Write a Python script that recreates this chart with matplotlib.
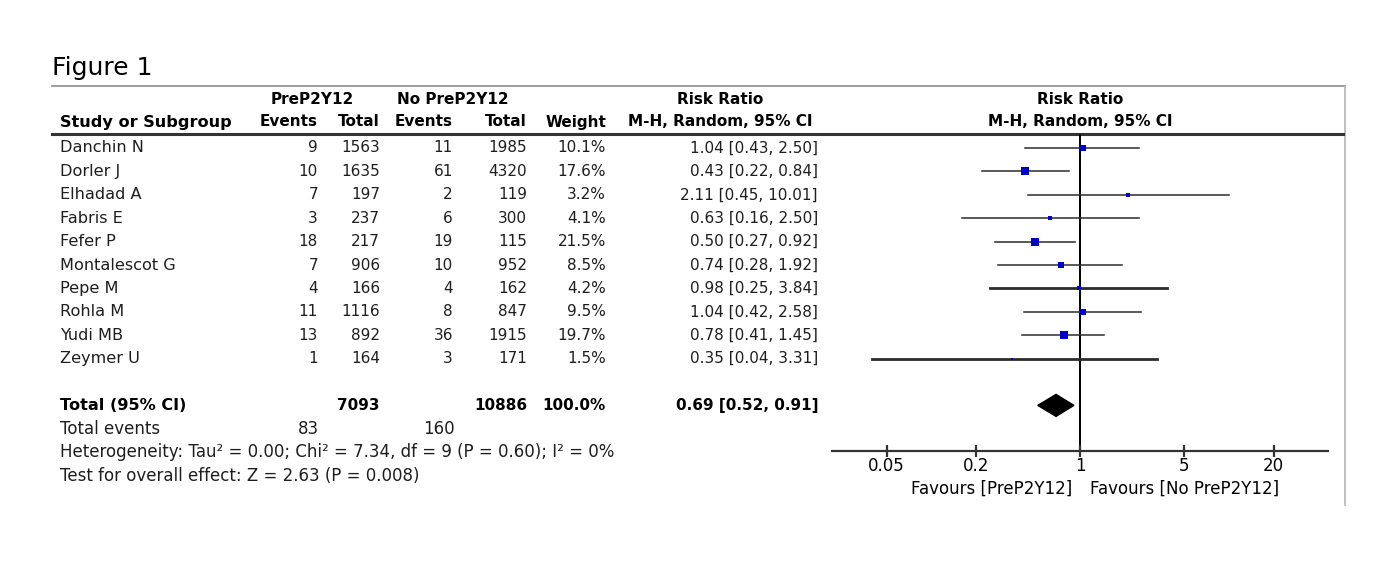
import matplotlib.pyplot as plt
import numpy as np
from matplotlib.patches import Polygon
from matplotlib.transforms import blended_transform_factory

# forest plot: pre-treatment with P2Y12 inhibitors vs none

studies = ["Danchin N", "Dorler J", "Elhadad A", "Fabris E", "Fefer P",
           "Montalescot G", "Pepe M", "Rohla M", "Yudi MB", "Zeymer U"]
pre_events = [9, 10, 7, 3, 18, 7, 4, 11, 13, 1]
pre_total = [1563, 1635, 197, 237, 217, 906, 166, 1116, 892, 164]
no_events = [11, 61, 2, 6, 19, 10, 4, 8, 36, 3]
no_total = [1985, 4320, 119, 300, 115, 952, 162, 847, 1915, 171]
weight = [10.1, 17.6, 3.2, 4.1, 21.5, 8.5, 4.2, 9.5, 19.7, 1.5]
rr = [1.04, 0.43, 2.11, 0.63, 0.50, 0.74, 0.98, 1.04, 0.78, 0.35]
ci_low = [0.43, 0.22, 0.45, 0.16, 0.27, 0.28, 0.25, 0.42, 0.41, 0.04]
ci_high = [2.50, 0.84, 10.01, 2.50, 0.92, 1.92, 3.84, 2.58, 1.45, 3.31]

total_pre, total_no = 7093, 10886
total_weight = 100.0
events_pre, events_no = 83, 160
pooled_rr, pooled_low, pooled_high = 0.69, 0.52, 0.91
heterogeneity = "Heterogeneity: Tau² = 0.00; Chi² = 7.34, df = 9 (P = 0.60); I² = 0%"
overall = "Test for overall effect: Z = 2.63 (P = 0.008)"

xticks = [0.05, 0.2, 1, 5, 20]
xtick_labels = ["0.05", "0.2", "1", "5", "20"]

# the two CI lines that come out heavier in the original
thick_rows = {"Pepe M", "Zeymer U"}

W, H = 1380, 570
fig = plt.figure(figsize=(W / 100, H / 100), dpi=100)

# background axes in pixel coordinates for the table part
tab = fig.add_axes([0, 0, 1, 1])
tab.set_xlim(0, W)
tab.set_ylim(H, 0)
tab.axis("off")

row0, step = 148, 23.4
def row_y(i):
    return row0 + i * step

fs = 11
fs_name = 11.6
fs_foot = 12
dark = "#1e1e1e"

tab.text(52, 68, "Figure 1", fontsize=18, va="center", ha="left")
tab.plot([52, 1345], [86, 86], color="#8c8c8c", lw=1.2)
tab.plot([1345, 1345], [86, 505], color="#b5b5b5", lw=1.2)
tab.plot([52, 1343], [134, 134], color="#333333", lw=2.2)

# header
hb = dict(fontsize=fs, fontweight="bold", va="center")
tab.text(312, 99, "PreP2Y12", ha="center", **hb)
tab.text(453, 99, "No PreP2Y12", ha="center", **hb)
tab.text(720, 99, "Risk Ratio", ha="center", **hb)
tab.text(1080, 99, "Risk Ratio", ha="center", **hb)
tab.text(60, 122, "Study or Subgroup", ha="left", fontsize=fs_name, fontweight="bold", va="center")
tab.text(318, 122, "Events", ha="right", **hb)
tab.text(380, 122, "Total", ha="right", **hb)
tab.text(453, 122, "Events", ha="right", **hb)
tab.text(527, 122, "Total", ha="right", **hb)
tab.text(606, 122, "Weight", ha="right", **hb)
tab.text(720, 122, "M-H, Random, 95% CI", ha="center", **hb)
tab.text(1080, 122, "M-H, Random, 95% CI", ha="center", **hb)

cols = [318, 380, 453, 527, 606, 818]
for i, name in enumerate(studies):
    y = row_y(i)
    tab.text(60, y, name, fontsize=fs_name, va="center", ha="left", color=dark)
    vals = [str(pre_events[i]), str(pre_total[i]), str(no_events[i]),
            str(no_total[i]), f"{weight[i]:.1f}%",
            f"{rr[i]:.2f} [{ci_low[i]:.2f}, {ci_high[i]:.2f}]"]
    for x, v in zip(cols, vals):
        tab.text(x, y, v, fontsize=fs, va="center", ha="right", color=dark)

yt = row_y(11)
tb = dict(fontsize=fs, fontweight="bold", va="center")
tab.text(60, yt, "Total (95% CI)", ha="left", fontsize=fs_name, fontweight="bold", va="center")
tab.text(380, yt, str(total_pre), ha="right", **tb)
tab.text(527, yt, str(total_no), ha="right", **tb)
tab.text(606, yt, f"{total_weight:.1f}%", ha="right", **tb)
tab.text(818, yt, f"{pooled_rr:.2f} [{pooled_low:.2f}, {pooled_high:.2f}]", ha="right", **tb)

tab.text(60, row_y(12), "Total events", fontsize=fs_foot, va="center", color=dark)
tab.text(319, row_y(12), str(events_pre), fontsize=fs_foot, va="center", ha="right", color=dark)
tab.text(455, row_y(12), str(events_no), fontsize=fs_foot, va="center", ha="right", color=dark)
tab.text(60, row_y(13), heterogeneity, fontsize=fs_foot, va="center", color=dark)
tab.text(60, row_y(14), overall, fontsize=fs_foot, va="center", color=dark)

# forest plot axes, same pixel y scale
left, right, top, bottom = 832, 1328, 134, 451
ax = fig.add_axes([left / W, (H - bottom) / H, (right - left) / W, (bottom - top) / H])
ax.patch.set_alpha(0)
ax.set_xscale("log")
ax.set_xlim(0.0215, 46.5)
ax.set_ylim(bottom, top)
for s in ["top", "left", "right"]:
    ax.spines[s].set_visible(False)
ax.spines["bottom"].set_color("#333333")
ax.spines["bottom"].set_linewidth(1.6)
ax.set_yticks([])
ax.set_xticks(xticks)
ax.set_xticklabels(xtick_labels)
ax.minorticks_off()
ax.tick_params(axis="x", direction="inout", length=8, width=1.6, color="#333333",
               labelsize=12, pad=0)

ax.axvline(1, color="black", lw=1.4, zorder=1)

for i, name in enumerate(studies):
    y = row_y(i)
    lw = 2.0 if name in thick_rows else 1.1
    ax.plot([ci_low[i], ci_high[i]], [y, y], color="#2b2b2b", lw=lw, zorder=2)
    ax.plot(rr[i], y, marker="s", color="#0000cc", markeredgewidth=0,
            markersize=1.3 * np.sqrt(weight[i]), zorder=3)

h = 11
diamond = Polygon([[pooled_low, yt], [pooled_rr, yt - h], [pooled_high, yt], [pooled_rr, yt + h]],
                  closed=True, color="black", zorder=3)
ax.add_patch(diamond)

trans = blended_transform_factory(ax.transData, tab.transData)
ax.text(0.884, 489, "Favours [PreP2Y12]", transform=trans, ha="right", va="center", fontsize=12)
ax.text(1.167, 489, "Favours [No PreP2Y12]", transform=trans, ha="left", va="center", fontsize=12)

fig.savefig("out.png", dpi=100)
